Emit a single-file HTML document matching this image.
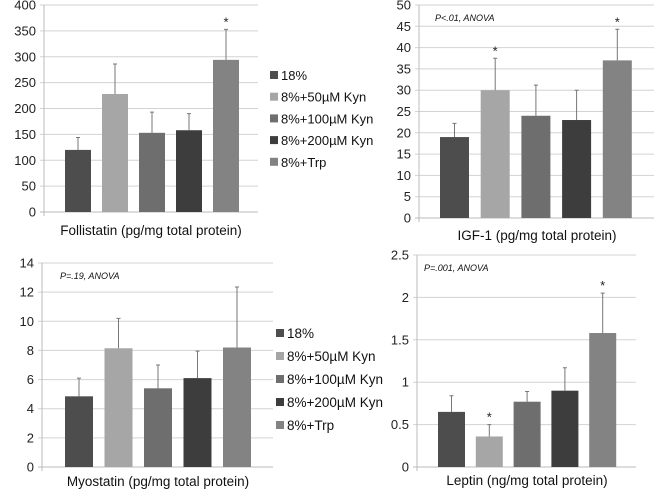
<!DOCTYPE html>
<html><head><meta charset="utf-8"><style>
body{margin:0;background:#fff;}
svg{display:block;font-family:"Liberation Sans",sans-serif;}
</style></head><body>
<svg id="c" width="662" height="492"></svg>
<script>
const categories=["18%","8%+50µM Kyn","8%+100µM Kyn","8%+200µM Kyn","8%+Trp"];
const colors=["#4d4d4d","#a6a6a6","#6e6e6e","#3d3d3d","#838383"];
const follistatinValues=[120,228,153,158,294];
const follistatinErrors=[24,58,40,32,59];
const follistatinStars=[0,0,0,0,1];
const follistatinTicks=[0,50,100,150,200,250,300,350,400];
const igfValues=[19,30,24,23,37];
const igfErrors=[3.2,7.5,7.2,7,7.3];
const igfStars=[0,1,0,0,1];
const igfTicks=[0,5,10,15,20,25,30,35,40,45,50];
const myoValues=[4.85,8.15,5.4,6.1,8.2];
const myoErrors=[1.25,2.05,1.6,1.85,4.15];
const myoStars=[0,0,0,0,0];
const myoTicks=[0,2,4,6,8,10,12,14];
const leptinValues=[0.65,0.36,0.77,0.9,1.58];
const leptinErrors=[0.19,0.14,0.12,0.27,0.47];
const leptinStars=[0,1,0,0,1];
const leptinTicks=[0,0.5,1,1.5,2,2.5];

const svg=document.getElementById('c');
const NS="http://www.w3.org/2000/svg";
function mk(tag,attrs,parent){const e=document.createElementNS(NS,tag);for(const k in attrs)e.setAttribute(k,attrs[k]);(parent||svg).appendChild(e);return e;}

function chart(cfg,vals,errs,stars,ticks){
  const g=mk('g',{});
  
  
  const max=ticks[ticks.length-1];
  const y=v=>cfg.y0-(v/max)*(cfg.y0-cfg.yTop);
  const x=i=>cfg.firstBar+i*cfg.step;
  ticks.forEach(t=>{
    const ln=mk('line',{x1:cfg.ax-4,x2:cfg.right,y1:y(t),y2:y(t),stroke:t===0?'#bbb':'#d3d3d3','stroke-width':1},g);
    
    
    const tx=mk('text',{x:cfg.ax-8,y:y(t)+4.5,'text-anchor':'end','font-size':13,fill:'#222'},g);
    tx.textContent=String(t);
    
    
  });
  mk('line',{x1:cfg.ax,x2:cfg.ax,y1:cfg.yTop,y2:cfg.y0+4,stroke:'#bbb'},g);
  vals.forEach((v,i)=>{
    const r=mk('rect',{x:x(i),y:y(v),width:cfg.bw,height:cfg.y0-y(v),fill:colors[i]},g);
    
    
    const cx=x(i)+cfg.bw/2, ty=y(v+errs[i]);
    const e=mk('path',{d:`M${cx},${y(v)}V${ty}M${cx-2},${ty}H${cx+2}`,stroke:'#777','stroke-width':1,fill:'none'},g);
    
    
    if(stars[i]){
      const s=mk('text',{x:cx,y:ty-3,'text-anchor':'middle','font-size':13,fill:'#222'},g);
      s.textContent='*';
      
      
    }
  });
  const t=mk('text',{x:cfg.tx,y:cfg.ty,'text-anchor':'middle','font-size':13.5,fill:'#111'},g);
  t.textContent=cfg.title;
  
  
  if(cfg.note){
    const n=mk('text',{x:cfg.nx,y:cfg.ny,'font-size':9,'font-style':'italic',fill:'#111'},g);
    n.textContent=cfg.note;
    
    
  }
  if(cfg.lx){
    categories.forEach((c,i)=>{
      const ly=cfg.ly+i*cfg.lstep;
      const sq=mk('rect',{x:cfg.lx,y:ly-4,width:8,height:8,fill:colors[i]},g);
      
      
      const lt=mk('text',{x:cfg.lx+11,y:ly+5,'font-size':cfg.lfs,fill:'#111'},g);
      lt.textContent=c;
      
      
    });
  }
}
chart({name:'follistatin-chart',ax:44,right:258,y0:212,yTop:5,firstBar:65,step:37,bw:26,tx:151,ty:235,title:'Follistatin (pg/mg total protein)',lx:270,ly:75,lstep:21.7,lfs:13},follistatinValues,follistatinErrors,follistatinStars,follistatinTicks);
chart({name:'igf1-chart',ax:419,right:654,y0:218,yTop:5,firstBar:440,step:40.7,bw:29,tx:537,ty:240,title:'IGF-1 (pg/mg total protein)',note:'P<.01, ANOVA',nx:435,ny:21},igfValues,igfErrors,igfStars,igfTicks);
chart({name:'myostatin-chart',ax:42,right:273,y0:467,yTop:263,firstBar:65,step:39.5,bw:28,tx:158,ty:486,title:'Myostatin (pg/mg total protein)',note:'P=.19, ANOVA',nx:60,ny:279,lx:276,ly:333,lstep:23,lfs:13.5},myoValues,myoErrors,myoStars,myoTicks);
chart({name:'leptin-chart',ax:417,right:636,y0:467,yTop:255,firstBar:438,step:37.8,bw:27,tx:527,ty:485,title:'Leptin (ng/mg total protein)',note:'P=.001, ANOVA',nx:424,ny:271},leptinValues,leptinErrors,leptinStars,leptinTicks);
</script>
</body></html>
